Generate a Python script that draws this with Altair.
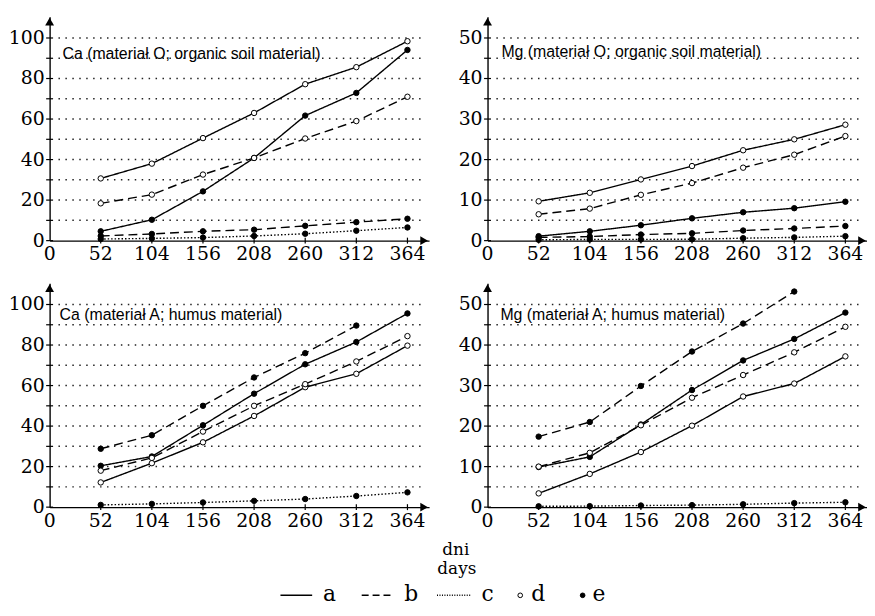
import altair as alt
import pandas as pd

# ---------------- data ----------------
days = [52, 104, 156, 208, 260, 312, 364]
x_labels = [0, 52, 104, 156, 208, 260, 312, 364]
ca_labels = [0, 20, 40, 60, 80, 100]
mg_labels = [0, 10, 20, 30, 40, 50]
ca_grid = [10, 20, 30, 40, 50, 60, 70, 80, 90, 100]
mg_grid = [5, 10, 15, 20, 25, 30, 35, 40, 45, 50]
legend_labels = ["a", "b", "c", "d", "e"]

# Ca, material O  (line style a/b/c, marker d/e)
ca_o_ad = [30.7, 38.0, 50.6, 63.0, 77.2, 85.6, 98.4]
ca_o_ae = [4.6, 10.3, 24.3, 40.8, 61.7, 72.9, 94.1]
ca_o_bd = [18.4, 22.7, 32.6, 40.8, 50.4, 59.0, 71.0]
ca_o_be = [2.3, 3.3, 4.6, 5.4, 7.3, 9.1, 10.8]
ca_o_ce = [0.8, 1.1, 1.5, 2.3, 3.4, 4.9, 6.5]

# Mg, material O
mg_o_ad = [9.7, 11.8, 15.1, 18.4, 22.3, 25.0, 28.6]
mg_o_bd = [6.5, 7.9, 11.3, 14.2, 18.0, 21.2, 25.8]
mg_o_ae = [1.1, 2.3, 3.8, 5.5, 7.0, 8.0, 9.6]
mg_o_be = [0.8, 1.0, 1.5, 1.8, 2.5, 3.0, 3.6]
mg_o_ce = [0.2, 0.3, 0.3, 0.35, 0.6, 0.8, 1.1]

# Ca, material A
ca_a_be = [28.8, 35.5, 50.0, 64.0, 76.0, 89.6]
ca_a_ae = [20.4, 25.0, 40.4, 56.0, 70.5, 81.5, 95.6]
ca_a_bd = [18.0, 24.3, 37.3, 50.0, 60.7, 71.9, 84.4]
ca_a_ad = [12.2, 21.7, 32.0, 45.0, 59.2, 65.8, 79.7]
ca_a_ce = [1.1, 1.6, 2.3, 3.1, 4.0, 5.5, 7.3]

# Mg, material A
mg_a_be = [17.4, 21.0, 29.9, 38.4, 45.3, 53.2]
mg_a_ae = [9.9, 12.4, 20.4, 28.9, 36.2, 41.5, 48.0]
mg_a_bd = [10.0, 13.4, 20.2, 27.0, 32.6, 38.2, 44.5]
mg_a_ad = [3.4, 8.2, 13.6, 20.1, 27.3, 30.5, 37.2]
mg_a_ce = [0.2, 0.25, 0.4, 0.5, 0.7, 1.0, 1.2]

titles = [
    "Ca (materiał O; organic soil material)",
    "Mg (materiał O; organic soil material)",
    "Ca (materiał A; humus material)",
    "Mg (materiał A; humus material)",
]

# ---------------- styling ----------------
W, H = 383, 226
XMAX = 386
SERIF = "DejaVu Serif"
SANS = "Liberation Sans, Arial, sans-serif"
DASH = {"a": [1, 0], "b": [9, 5], "c": [1.5, 2]}
LABEL_SIZE = 19


def to_df(series):
    rows = []
    for (ls, mk), vals in series:
        for d, v in zip(days, vals):
            rows.append({"day": d, "value": v, "series": ls + mk, "line": ls, "marker": mk})
    return pd.DataFrame(rows)


def panel(series, ymax, labels, grid_vals, title, tx, ty, extra=None):
    df = to_df(series)
    xs = alt.Scale(domain=[0, XMAX], nice=False, zero=False)
    ys = alt.Scale(domain=[0, ymax], nice=False, zero=False)
    xaxis = alt.Axis(values=x_labels, title=None, ticks=False, tickSize=0, grid=False,
                     domainColor="black", domainWidth=1.4, labels=False)
    yaxis = alt.Axis(values=labels, title=None, ticks=False, tickSize=0, grid=False,
                     domainColor="black", domainWidth=1.4, labels=False)
    X = alt.X("day:Q", scale=xs, axis=xaxis)
    Y = alt.Y("value:Q", scale=ys, axis=yaxis)

    grid = alt.Chart(pd.DataFrame({"g": grid_vals})).mark_rule(
        color="#222", strokeDash=[1.5, 5.5], strokeWidth=1.5
    ).encode(y=alt.Y("g:Q", scale=ys, axis=yaxis), x=alt.datum(9), x2=alt.datum(378))

    lines = alt.Chart(df).mark_line(color="black", strokeWidth=1.4).encode(
        x=X, y=Y, detail="series:N",
        strokeDash=alt.StrokeDash("line:N", scale=alt.Scale(domain=list(DASH), range=list(DASH.values())), legend=None),
    )
    pts = alt.Chart(df).mark_point(shape="circle", filled=True, size=30, stroke="black",
                                   strokeWidth=1, opacity=1).encode(
        x=X, y=Y,
        fill=alt.Fill("marker:N", scale=alt.Scale(domain=["d", "e"], range=["white", "black"]), legend=None),
    )
    yt = alt.Chart(pd.DataFrame({"t": [0] + grid_vals})).mark_tick(
        orient="horizontal", size=7, thickness=1.2, color="black", opacity=1
    ).encode(y=alt.Y("t:Q", scale=ys), x=alt.datum(0))
    xt = alt.Chart(pd.DataFrame({"d": days})).mark_tick(
        orient="vertical", size=6, thickness=1.2, color="black", opacity=1
    ).encode(x=alt.X("d:Q", scale=xs), y=alt.datum(0))
    # tick labels (serif), positioned by the scales
    xl = alt.Chart(pd.DataFrame({"v": x_labels})).mark_text(
        baseline="top", align="center", dy=5, font=SERIF, fontSize=LABEL_SIZE, color="black"
    ).encode(x=alt.X("v:Q", scale=xs), y=alt.datum(0), text="v:Q")
    yl = alt.Chart(pd.DataFrame({"v": labels})).mark_text(
        baseline="middle", align="right", dx=-5, font=SERIF, fontSize=LABEL_SIZE, color="black"
    ).encode(y=alt.Y("v:Q", scale=ys), x=alt.datum(0), text="v:Q")
    up = alt.Chart(pd.DataFrame({"k": [0]})).mark_point(
        shape="triangle-up", filled=True, size=80, color="black", opacity=1
    ).encode(x=alt.datum(0), y=alt.value(5))
    right = alt.Chart(pd.DataFrame({"k": [0]})).mark_point(
        shape="triangle-right", filled=True, size=80, color="black", opacity=1
    ).encode(x=alt.value(W - 5), y=alt.datum(0))
    ttl = alt.Chart(pd.DataFrame({"t": [title]})).mark_text(
        align="left", baseline="alphabetic", font=SANS, fontSize=16, color="black"
    ).encode(x=alt.value(tx), y=alt.value(ty), text="t:N")
    layers = [grid, lines, pts, yt, xt, xl, yl, up, right, ttl]
    if extra:
        layers += extra
    return alt.layer(*layers).properties(width=W, height=H)


# legend and x-axis caption (drawn below the bottom-left panel)
one = pd.DataFrame({"k": [0]})
LY = 315  # legend row (relative to bottom-left panel top)


def txt(s, x, y, size, align="left"):
    return alt.Chart(pd.DataFrame({"t": [s]})).mark_text(
        align=align, baseline="alphabetic", font=SERIF, fontSize=size, color="black"
    ).encode(x=alt.value(x), y=alt.value(y), text="t:N")


def sample(x1, x2, dash):
    return alt.Chart(one).mark_rule(color="black", strokeWidth=1.5, strokeDash=dash).encode(
        x=alt.value(x1), x2=alt.value(x2), y=alt.value(LY)
    )


def dot(x, fill):
    return alt.Chart(one).mark_point(shape="circle", filled=True, size=22, fill=fill,
                                     stroke="black", strokeWidth=1, opacity=1).encode(
        x=alt.value(x), y=alt.value(LY))


extra = [
    txt("dni", 410, 274, 17, "center"),
    txt("days", 411, 293, 17, "center"),
    sample(233, 265, [1, 0]), txt(legend_labels[0], 276, LY + 6, 22),
    sample(315, 348, [7, 4]), txt(legend_labels[1], 358, LY + 6, 22),
    sample(391, 425, [1, 1.5]), txt(legend_labels[2], 436, LY + 6, 22),
    dot(475, "white"), txt(legend_labels[3], 486, LY + 6, 22),
    dot(538, "black"), txt(legend_labels[4], 548, LY + 6, 22),
]

p1 = panel([(("a", "d"), ca_o_ad), (("a", "e"), ca_o_ae), (("b", "d"), ca_o_bd),
            (("b", "e"), ca_o_be), (("c", "e"), ca_o_ce)],
           110.5, ca_labels, ca_grid, titles[0], 13, 43)
p2 = panel([(("a", "d"), mg_o_ad), (("a", "e"), mg_o_ae), (("b", "d"), mg_o_bd),
            (("b", "e"), mg_o_be), (("c", "e"), mg_o_ce)],
           55.25, mg_labels, mg_grid, titles[1], 14, 41)
p3 = panel([(("a", "d"), ca_a_ad), (("a", "e"), ca_a_ae), (("b", "d"), ca_a_bd),
            (("b", "e"), ca_a_be), (("c", "e"), ca_a_ce)],
           110.5, ca_labels, ca_grid, titles[2], 10, 37, extra)
p4 = panel([(("a", "d"), mg_a_ad), (("a", "e"), mg_a_ae), (("b", "d"), mg_a_bd),
            (("b", "e"), mg_a_be), (("c", "e"), mg_a_ce)],
           55.25, mg_labels, mg_grid, titles[3], 13, 37)

chart = alt.concat(p1, p2, p3, p4, columns=2, spacing={"row": 43, "column": 59},
                   bounds="flush").properties(
    padding={"left": 0, "top": 6, "right": 0, "bottom": 0}
).configure_view(stroke=None).resolve_scale(strokeDash="independent", fill="independent")

chart.save("out.html", embed_options={"renderer": "svg", "actions": False})
